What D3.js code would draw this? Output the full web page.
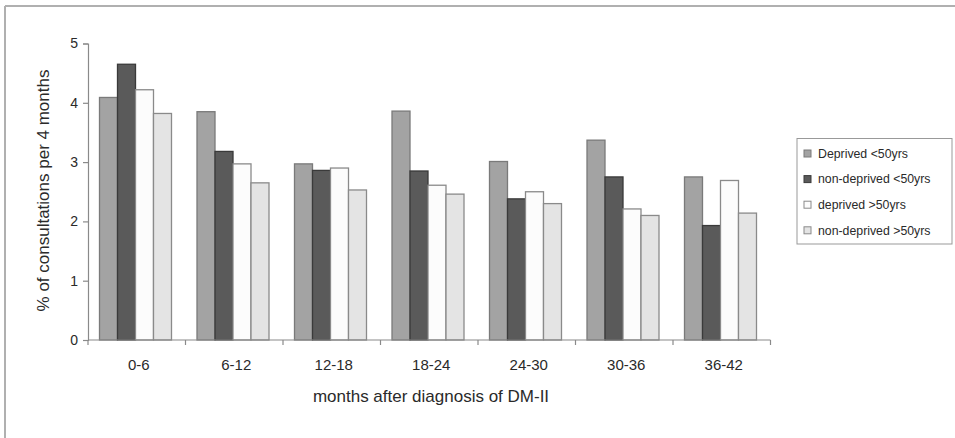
<!DOCTYPE html>
<html><head><meta charset="utf-8">
<script src="https://cdn.jsdelivr.net/npm/d3@7"></script>
<style>body{margin:0;background:#fff}svg{display:block;font-family:"Liberation Sans",Arial,sans-serif}</style>
</head><body>
<svg id="c" width="955" height="438"></svg>
<script>
const categories = ["0-6","6-12","12-18","18-24","24-30","30-36","36-42"];
const seriesNames = ["Deprived <50yrs","non-deprived <50yrs","deprived >50yrs","non-deprived >50yrs"];
const deprivedUnder50 = [4.09,3.85,2.97,3.86,3.01,3.37,2.75];
const nonDeprivedUnder50 = [4.65,3.18,2.86,2.85,2.38,2.75,1.93];
const deprivedOver50 = [4.22,2.97,2.90,2.61,2.50,2.21,2.69];
const nonDeprivedOver50 = [3.82,2.65,2.53,2.46,2.30,2.10,2.14];
const yTicks = [0,1,2,3,4,5];
const series = [deprivedUnder50, nonDeprivedUnder50, deprivedOver50, nonDeprivedOver50];
const fills = ["#a3a3a3","#5a5a5a","#fcfcfc","#e4e4e4"];
const strokes = ["#7a7a7a","#3a3a3a","#8a8a8a","#8a8a8a"];
const txt = "#2a2a2a";

const svg = d3.select("#c");
// outer frame (top and left)
svg.append("line").attr("x1",5).attr("x2",955).attr("y1",6).attr("y2",6).attr("stroke","#b0b0b0").attr("stroke-width",2);
svg.append("line").attr("x1",5).attr("x2",5).attr("y1",6).attr("y2",438).attr("stroke","#b0b0b0").attr("stroke-width",2);

const x0 = 88, x1 = 770.5, yBot = 340, yTop = 43.5;
const x = d3.scaleBand().domain(categories).range([x0,x1]).paddingInner(0).paddingOuter(0);
const y = d3.scaleLinear().domain([0,5]).range([yBot,yTop]);
const inner = d3.scaleBand().domain(d3.range(4)).range([11, 83]).padding(0);

const g = svg.append("g");
categories.forEach((c,i)=>{
  series.forEach((s,j)=>{
    g.append("rect")
      .attr("x", x(c)+inner(j)+0.5)
      .attr("y", y(s[i]))
      .attr("width", inner.bandwidth())
      .attr("height", yBot - y(s[i]))
      .attr("fill", fills[j]).attr("stroke", strokes[j]).attr("stroke-width",1.3);
  });
});

// y axis
const ya = svg.append("g").attr("transform",`translate(${x0},0)`)
  .call(d3.axisLeft(y).tickValues(yTicks).tickSize(5).tickPadding(5).tickFormat(d3.format("d")));
ya.select(".domain").attr("stroke","#8a8a8a").attr("stroke-width",1.2);
ya.selectAll(".tick line").attr("stroke","#8a8a8a").attr("stroke-width",1.2);
ya.selectAll("text").attr("font-size",14).attr("fill",txt).attr("font-family","Liberation Sans, Arial, sans-serif");

// x axis
const xa = svg.append("g").attr("transform",`translate(0,${yBot})`)
  .call(d3.axisBottom(x).tickSize(0).tickPadding(19));
xa.select(".domain").remove();
svg.append("line").attr("x1",x0).attr("x2",x1).attr("y1",yBot).attr("y2",yBot).attr("stroke","#8a8a8a").attr("stroke-width",1.2);
const tickPos = categories.map(c=>x(c)).concat([x1]);
svg.selectAll(".xt").data(tickPos).enter().append("line")
  .attr("x1",d=>d).attr("x2",d=>d).attr("y1",yBot).attr("y2",yBot+5)
  .attr("stroke","#8a8a8a").attr("stroke-width",1.2);
xa.selectAll("text").attr("font-size",15).attr("fill",txt).attr("font-family","Liberation Sans, Arial, sans-serif")
  .attr("dx",2);

// axis titles
svg.append("text").attr("x",431).attr("y",402).attr("text-anchor","middle")
  .attr("font-size",17).attr("fill",txt).text("months after diagnosis of DM-II");
svg.append("text").attr("transform","translate(49,190.5) rotate(-90)").attr("text-anchor","middle")
  .attr("font-size",17).attr("fill",txt).text("% of consultations per 4 months");

// legend
const lg = svg.append("g");
lg.append("rect").attr("x",797).attr("y",138.5).attr("width",155).attr("height",105.5)
  .attr("fill","#fff").attr("stroke","#999").attr("stroke-width",1);
seriesNames.forEach((n,j)=>{
  const cy = 153.5 + j*25.6;
  lg.append("rect").attr("x",804).attr("y",cy-3.5).attr("width",7).attr("height",7)
    .attr("fill",fills[j]).attr("stroke",strokes[j]).attr("stroke-width",1);
  lg.append("text").attr("x",818).attr("y",cy+4.3).attr("font-size",12.3).attr("fill",txt).text(n);
});
</script>
</body></html>
